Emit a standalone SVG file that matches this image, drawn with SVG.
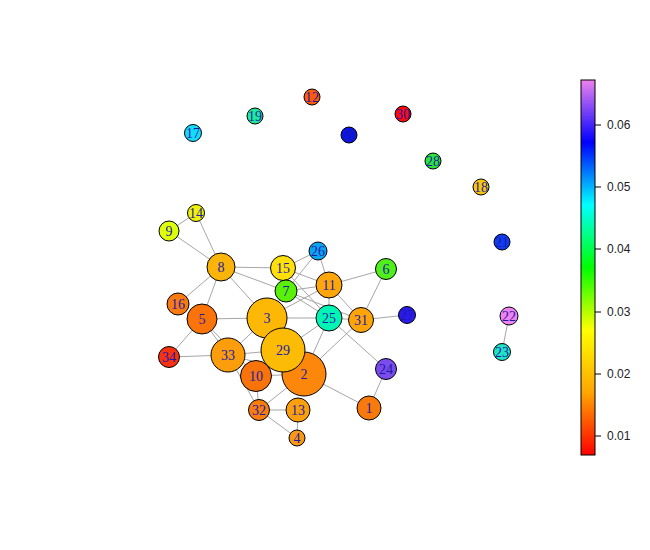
<svg xmlns="http://www.w3.org/2000/svg" width="650" height="550" viewBox="0 0 650 550">
<defs>
<linearGradient id="rb" x1="0" y1="1" x2="0" y2="0">
<stop offset="0" stop-color="#FF0000"/>
<stop offset="0.1667" stop-color="#FFA500"/>
<stop offset="0.3333" stop-color="#FFFF00"/>
<stop offset="0.5" stop-color="#00FF00"/>
<stop offset="0.6667" stop-color="#00FFFF"/>
<stop offset="0.8333" stop-color="#0000FF"/>
<stop offset="1" stop-color="#EE82EE"/>
</linearGradient>
</defs>
<style>
.e{stroke:#a6a6a6;stroke-width:1;fill:none}
.n circle{stroke:#000;stroke-width:1}
.n text{font-family:"Liberation Serif","Times New Roman",serif;font-size:14px;fill:#1a1aa6;text-anchor:middle;dominant-baseline:central}
.tk{stroke:#000;stroke-width:1}
.tl{font-family:"Liberation Sans",Arial,sans-serif;font-size:12px;fill:#222;dominant-baseline:central}
</style>
<rect width="650" height="550" fill="#fff"/>
<g id="connectors">
<line class="e" x1="169" y1="231" x2="196" y2="213"/>
<line class="e" x1="196" y1="213" x2="221" y2="267"/>
<line class="e" x1="169" y1="231" x2="221" y2="267"/>
<line class="e" x1="221" y1="267" x2="283" y2="268"/>
<line class="e" x1="221" y1="267" x2="286" y2="291"/>
<line class="e" x1="221" y1="267" x2="178" y2="304"/>
<line class="e" x1="221" y1="267" x2="202" y2="319"/>
<line class="e" x1="221" y1="267" x2="267" y2="318"/>
<line class="e" x1="202" y1="319" x2="267" y2="318"/>
<line class="e" x1="202" y1="319" x2="228" y2="355"/>
<line class="e" x1="202" y1="319" x2="256" y2="376"/>
<line class="e" x1="202" y1="319" x2="169" y2="357"/>
<line class="e" x1="169" y1="357" x2="228" y2="355"/>
<line class="e" x1="228" y1="355" x2="267" y2="318"/>
<line class="e" x1="228" y1="355" x2="283" y2="350"/>
<line class="e" x1="228" y1="355" x2="304" y2="374"/>
<line class="e" x1="228" y1="355" x2="259" y2="410"/>
<line class="e" x1="256" y1="376" x2="283" y2="350"/>
<line class="e" x1="256" y1="376" x2="304" y2="374"/>
<line class="e" x1="256" y1="376" x2="259" y2="410"/>
<line class="e" x1="259" y1="410" x2="298" y2="410"/>
<line class="e" x1="259" y1="410" x2="297" y2="438"/>
<line class="e" x1="259" y1="410" x2="304" y2="374"/>
<line class="e" x1="298" y1="410" x2="297" y2="438"/>
<line class="e" x1="304" y1="374" x2="369" y2="408"/>
<line class="e" x1="304" y1="374" x2="361" y2="320"/>
<line class="e" x1="304" y1="374" x2="329" y2="318"/>
<line class="e" x1="283" y1="350" x2="329" y2="318"/>
<line class="e" x1="267" y1="318" x2="283" y2="350"/>
<line class="e" x1="267" y1="318" x2="286" y2="291"/>
<line class="e" x1="267" y1="318" x2="329" y2="285"/>
<line class="e" x1="267" y1="318" x2="329" y2="318"/>
<line class="e" x1="329" y1="318" x2="361" y2="320"/>
<line class="e" x1="286" y1="291" x2="361" y2="320"/>
<line class="e" x1="329" y1="318" x2="386" y2="369"/>
<line class="e" x1="386" y1="369" x2="369" y2="408"/>
<line class="e" x1="361" y1="320" x2="407" y2="315"/>
<line class="e" x1="361" y1="320" x2="386" y2="269"/>
<line class="e" x1="361" y1="320" x2="329" y2="285"/>
<line class="e" x1="329" y1="285" x2="386" y2="269"/>
<line class="e" x1="329" y1="285" x2="318" y2="251"/>
<line class="e" x1="329" y1="285" x2="283" y2="268"/>
<line class="e" x1="329" y1="285" x2="286" y2="291"/>
<line class="e" x1="329" y1="285" x2="329" y2="318"/>
<line class="e" x1="318" y1="251" x2="283" y2="268"/>
<line class="e" x1="318" y1="251" x2="286" y2="291"/>
<line class="e" x1="283" y1="268" x2="286" y2="291"/>
<line class="e" x1="283" y1="268" x2="329" y2="318"/>
<line class="e" x1="286" y1="291" x2="329" y2="318"/>
<line class="e" x1="509" y1="316" x2="502" y2="352"/>
</g>
<g id="node-12" class="n"><circle cx="312" cy="97" r="8" fill="#FF5A0A"/><text x="312" y="97">12</text></g>
<g id="node-30" class="n"><circle cx="403" cy="114" r="8" fill="#FF0A0A"/><text x="403" y="114">30</text></g>
<g id="node-19" class="n"><circle cx="255" cy="116" r="8" fill="#1EEB9A"/><text x="255" y="116">19</text></g>
<g id="node-17" class="n"><circle cx="193" cy="133" r="8.5" fill="#14DCFA"/><text x="193" y="133">17</text></g>
<g id="node-20" class="n"><circle cx="349" cy="135" r="8" fill="#0A14E6"/><text x="349" y="135">20</text></g>
<g id="node-28" class="n"><circle cx="433" cy="161" r="8" fill="#2BE639"/><text x="433" y="161">28</text></g>
<g id="node-18" class="n"><circle cx="481" cy="187" r="8" fill="#F7C60A"/><text x="481" y="187">18</text></g>
<g id="node-14" class="n"><circle cx="196" cy="213" r="8.5" fill="#EEF00A"/><text x="196" y="213">14</text></g>
<g id="node-9" class="n"><circle cx="169" cy="231" r="10" fill="#DDFF0A"/><text x="169" y="231">9</text></g>
<g id="node-21" class="n"><circle cx="502" cy="242" r="8" fill="#0F3CF0"/><text x="502" y="242">21</text></g>
<g id="node-8" class="n"><circle cx="221" cy="267" r="14" fill="#FAB40A"/><text x="221" y="267">8</text></g>
<g id="node-26" class="n"><circle cx="318" cy="251" r="9" fill="#0AA5F0"/><text x="318" y="251">26</text></g>
<g id="node-15" class="n"><circle cx="283" cy="268" r="12.5" fill="#FFE00A"/><text x="283" y="268">15</text></g>
<g id="node-6" class="n"><circle cx="386" cy="269" r="10.5" fill="#50EE1A"/><text x="386" y="269">6</text></g>
<g id="node-11" class="n"><circle cx="329" cy="285" r="13" fill="#FFA70A"/><text x="329" y="285">11</text></g>
<g id="node-7" class="n"><circle cx="286" cy="291" r="11" fill="#59F00A"/><text x="286" y="291">7</text></g>
<g id="node-16" class="n"><circle cx="178" cy="304" r="11" fill="#F97A10"/><text x="178" y="304">16</text></g>
<g id="node-5" class="n"><circle cx="202" cy="319" r="15" fill="#FA740A"/><text x="202" y="319">5</text></g>
<g id="node-25" class="n"><circle cx="329" cy="318" r="13" fill="#00F5B4"/><text x="329" y="318">25</text></g>
<g id="node-31" class="n"><circle cx="361" cy="320" r="12.5" fill="#FFA50A"/><text x="361" y="320">31</text></g>
<g id="node-27" class="n"><circle cx="407" cy="315" r="8.5" fill="#2B1BEB"/><text x="407" y="315">27</text></g>
<g id="node-22" class="n"><circle cx="509" cy="316" r="9" fill="#EE82EE"/><text x="509" y="316">22</text></g>
<g id="node-23" class="n"><circle cx="502" cy="352" r="8.5" fill="#20E5C5"/><text x="502" y="352">23</text></g>
<g id="node-34" class="n"><circle cx="169" cy="357" r="10.5" fill="#F73210"/><text x="169" y="357">34</text></g>
<g id="node-33" class="n"><circle cx="228" cy="355" r="17" fill="#FC9E0C"/><text x="228" y="355">33</text></g>
<g id="node-2" class="n"><circle cx="304" cy="374" r="22" fill="#FC870A"/><text x="304" y="374">2</text></g>
<g id="node-3" class="n"><circle cx="267" cy="318" r="20" fill="#FCB805"/><text x="267" y="318">3</text></g>
<g id="node-29" class="n"><circle cx="283" cy="350" r="22" fill="#FCBB05"/><text x="283" y="350">29</text></g>
<g id="node-10" class="n"><circle cx="256" cy="376" r="15.5" fill="#F8740A"/><text x="256" y="376">10</text></g>
<g id="node-24" class="n"><circle cx="386" cy="369" r="10.5" fill="#7B4BEB"/><text x="386" y="369">24</text></g>
<g id="node-32" class="n"><circle cx="259" cy="410" r="10.5" fill="#F97E0E"/><text x="259" y="410">32</text></g>
<g id="node-13" class="n"><circle cx="298" cy="410" r="12" fill="#FBA00C"/><text x="298" y="410">13</text></g>
<g id="node-1" class="n"><circle cx="369" cy="408" r="12" fill="#F8790C"/><text x="369" y="408">1</text></g>
<g id="node-4" class="n"><circle cx="297" cy="438" r="8" fill="#F99812"/><text x="297" y="438">4</text></g>
<g id="legend">
<rect x="581" y="80" width="14" height="375" fill="url(#rb)" stroke="#000" stroke-width="1"/>
<line class="tk" x1="595" y1="125" x2="601" y2="125"/><text class="tl" x="607" y="125">0.06</text>
<line class="tk" x1="595" y1="187" x2="601" y2="187"/><text class="tl" x="607" y="187">0.05</text>
<line class="tk" x1="595" y1="249" x2="601" y2="249"/><text class="tl" x="607" y="249">0.04</text>
<line class="tk" x1="595" y1="312" x2="601" y2="312"/><text class="tl" x="607" y="312">0.03</text>
<line class="tk" x1="595" y1="374" x2="601" y2="374"/><text class="tl" x="607" y="374">0.02</text>
<line class="tk" x1="595" y1="436" x2="601" y2="436"/><text class="tl" x="607" y="436">0.01</text>
</g>
</svg>
